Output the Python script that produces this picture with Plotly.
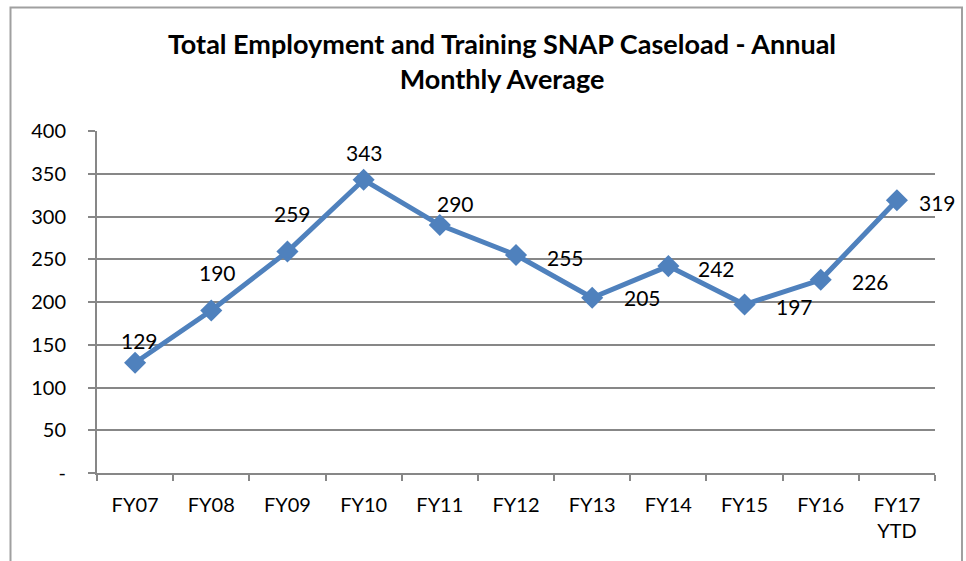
import plotly.graph_objects as go

# Fiscal-year categories and annual monthly-average caseload
categories = ["FY07", "FY08", "FY09", "FY10", "FY11", "FY12", "FY13", "FY14", "FY15", "FY16", "FY17<br>YTD"]
caseload = [129, 190, 259, 343, 290, 255, 205, 242, 197, 226, 319]

# Data-label offsets (pixels) relative to each marker
label_dx = [4, 6, 5, 1, 16, 49, 50, 48, 50, 50, 41]
label_dy = [-22, -38, -38, -27, -22, 3, 0, 2, 2, 2, 2]

y_ticks = [0, 50, 100, 150, 200, 250, 300, 350, 400]
y_ticktext = ["-" if v == 0 else str(v) for v in y_ticks]

FONT = "Lato, 'Open Sans', sans-serif"
BLUE = "#4F81BD"
GRID = "#878787"

fig = go.Figure()
fig.add_trace(go.Scatter(
    x=categories, y=caseload, mode="lines+markers",
    line=dict(color=BLUE, width=5),
    marker=dict(symbol="diamond", size=17, color=BLUE),
    hoverinfo="x+y", showlegend=False,
))

for c, v, dx, dy in zip(categories, caseload, label_dx, label_dy):
    fig.add_annotation(
        x=c, y=v, text=str(v), showarrow=False,
        xshift=dx, yshift=-dy,
        font=dict(family=FONT, size=21, color="#000000"),
    )

fig.update_layout(
    width=966, height=561,
    margin=dict(l=97, r=31, t=131, b=88),
    paper_bgcolor="white", plot_bgcolor="white",
    font=dict(family=FONT, size=20, color="#000000"),
    title=dict(
        text="<b>Total Employment and Training SNAP Caseload - Annual<br>Monthly Average</b>",
        x=502 / 966, xanchor="center", y=1 - 54 / 561, yanchor="middle",
        font=dict(family=FONT, size=27, color="#000000"),
    ),
    xaxis=dict(
        type="category", tickson="boundaries", ticks="outside", ticklen=6,
        tickcolor=GRID, tickwidth=2, showgrid=False,
        showline=True, linecolor=GRID, linewidth=2,
        tickfont=dict(family=FONT, size=20), ticklabelstandoff=13,
        range=[-0.5, len(categories) - 0.5],
    ),
    yaxis=dict(
        range=[0, 400], tickvals=y_ticks, ticktext=y_ticktext,
        ticks="outside", ticklen=7, tickcolor=GRID, tickwidth=2,
        showgrid=True, gridcolor=GRID, gridwidth=2,
        showline=True, linecolor=GRID, linewidth=2, zeroline=False,
        tickfont=dict(family=FONT, size=20), ticklabelstandoff=18,
    ),
)

# Outer chart border
fig.add_shape(
    type="rect", xref="paper", yref="paper",
    x0=(10.5 - 97) / 838, x1=(962 - 97) / 838,
    y0=(473 - 580) / 342, y1=(473 - 7.5) / 342,
    line=dict(color="#A0A0A0", width=2), fillcolor="rgba(0,0,0,0)", layer="below",
)

fig.write_html("out.html")
